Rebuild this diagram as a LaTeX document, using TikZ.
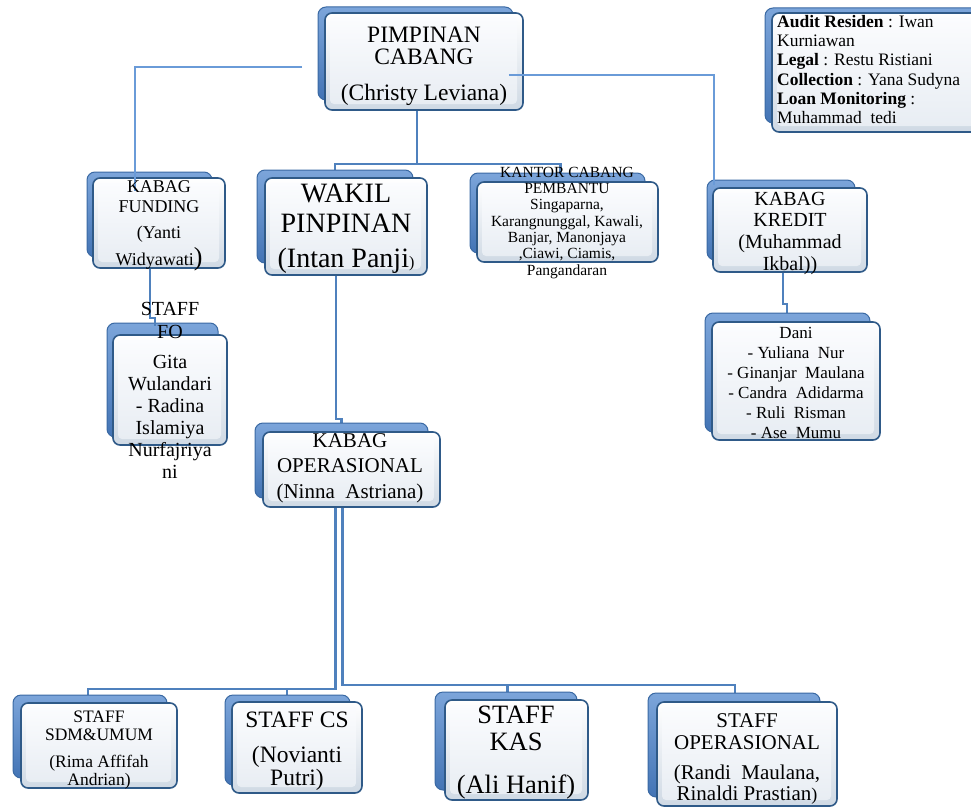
\documentclass[tikz,border=0pt]{standalone}
\usepackage{fontspec}
\setmainfont{Liberation Serif}
\usetikzlibrary{fit,calc,backgrounds}
\definecolor{lineblue}{HTML}{4F81BD}
\definecolor{thinblue}{HTML}{6A9BD8}
\definecolor{backtop}{HTML}{7CA5DA}
\definecolor{backbot}{HTML}{4374B5}
\definecolor{backedge}{HTML}{3A69A3}
\definecolor{frontedge}{HTML}{2F5A88}
\definecolor{frontbot}{HTML}{CFD9E4}
\definecolor{innertop}{HTML}{FBFCFE}
\definecolor{innerbot}{HTML}{E8EDF3}
\tikzset{
  backbox/.style={draw=backedge, line width=1pt, rounded corners=8pt, top color=backtop, bottom color=backbot, inner sep=0pt},
  frontbox/.style={draw=frontedge, line width=1.6pt, rounded corners=7pt, top color=white, bottom color=frontbot, inner sep=0pt},
  bevel/.style={rounded corners=4pt, top color=innertop, bottom color=innerbot, inner sep=0pt},
  conn/.style={draw=lineblue, line width=2.3pt},
  thinconn/.style={draw=thinblue, line width=1.3pt},
  txt/.style={inner sep=0pt, text=black},
}
\newcommand\orgbox[9]{%
  \node[backbox, fit={(#2,#3) (#4,#5)}] (#1b) {};
  \node[frontbox, fit={(#6,#7) (#8,#9)}] (#1) {};
  \node[bevel, fit={($(#6,#7)+(5,5)$) ($(#8,#9)+(-6,-6)$)}] (#1i) {};
}
\newcommand\tline[6][base]{\node[txt, anchor=#1, font=\fontsize{#5}{#5}\selectfont] (#2) at (#3,#4) {#6};}
\begin{document}
\begin{tikzpicture}[x=1pt,y=-1pt]
\useasboundingbox (0,0) rectangle (971,808);
\clip (0,0) rectangle (971,808);
% boxes
\orgbox{pc}{318}{7}{513}{100}{325}{13}{523}{110}
\orgbox{au}{765}{8}{990}{123}{772}{13}{1000}{132}
\orgbox{fd}{87}{172}{212}{257}{93}{178}{225}{268}
\orgbox{wk}{257}{170}{413}{263}{265}{178}{427}{275}
\orgbox{kc}{470}{173}{645}{253}{477}{182}{658}{262}
\orgbox{kr}{707}{180}{855}{260}{713}{188}{867}{272}
\orgbox{fo}{107}{323}{218}{437}{113}{335}{227}{445}
\orgbox{sk}{705}{313}{870}{432}{712}{322}{880}{440}
\orgbox{ops}{255}{423}{428}{498}{263}{432}{440}{507}
\orgbox{sdm}{13}{695}{167}{778}{21}{703}{177}{788}
\orgbox{cs}{225}{695}{350}{785}{232}{702}{362}{793}
\orgbox{kas}{435}{692}{577}{790}{445}{700}{588}{800}
\orgbox{sop}{648}{693}{820}{797}{657}{702}{837}{806}
% connectors under the boxes
\begin{pgfonlayer}{background}
\draw[conn] ([xshift=-7pt]pc.south) -- ++(0,53) coordinate (j1) -| ([xshift=-11pt]wk.north);
\draw[conn] (j1) -| ([xshift=-7pt]kc.north);
\draw[conn] ([xshift=-10pt]wk.south) -- ++(0,143) -| ([xshift=-10pt]ops.north);
\draw[conn] ([xshift=-16pt]ops.south) -- ++(0,181) coordinate (j2) -| ([xshift=-11pt]sdm.north);
\draw[conn] (j2) -| ([xshift=-10pt]cs.north);
\draw[conn] ([xshift=-9pt]ops.south) -- ++(0,177) coordinate (j3) -| ([xshift=-12pt]sop.north);
\draw[conn] (j3) -| ([xshift=-9pt]kas.north);
\draw[conn] ([xshift=-7pt]kr.south) -- ++(0,31) -| ([xshift=-9pt]sk.north);
\end{pgfonlayer}
% connectors over the boxes
\draw[thinconn] ([shift={(-22pt,-5.5pt)}]pc.west) -| ([shift={(-24pt,-14pt)}]fd.north);
\draw[thinconn] ([shift={(-15pt,-13.5pt)}]pc.east) -| ([shift={(-76pt,2pt)}]kr.north);
\draw[conn] ([xshift=-9pt]fd.south) -- ++(0,49) -- ++(5,0) -- ++(0,8);
% texts
\tline{pc1}{424}{42}{23.5}{PIMPINAN}
\tline{pc2}{424}{65}{23.5}{CABANG}
\tline{pc3}{424}{100}{23.5}{(Christy Leviana)}
\tline[base west]{au1}{777}{28}{17.5}{\textbf{Audit Residen} : Iwan}
\tline[base west]{au2}{777}{47}{17.5}{Kurniawan}
\tline[base west]{au3}{777}{66}{17.5}{\textbf{Legal} : Restu Ristiani}
\tline[base west]{au4}{777}{85}{17.5}{\textbf{Collection} : Yana Sudyna}
\tline[base west]{au5}{777}{104}{17.5}{\textbf{Loan Monitoring} :}
\tline[base west]{au6}{777}{123}{17.5}{Muhammad\ \ tedi}
\tline{fd1}{159}{192}{18}{KABAG}
\tline{fd2}{159}{212}{18}{FUNDING}
\tline{fd3}{159}{238}{18}{(Yanti}
\tline{fd4}{159}{265}{18}{Widyawati{\fontsize{26}{26}\selectfont)}}
\tline{wk1}{346}{202}{28}{WAKIL}
\tline{wk2}{346}{232}{28}{PINPINAN}
\tline{wk3}{346}{267}{28}{(Intan Panji{\fontsize{16}{16}\selectfont)}}
\tline{kc1}{567}{177}{15.5}{KANTOR CABANG}
\tline{kc2}{567}{193.3}{15.5}{PEMBANTU}
\tline{kc3}{567}{209.6}{15.5}{Singaparna,}
\tline{kc4}{567}{226}{15.5}{Karangnunggal, Kawali,}
\tline{kc5}{567}{242.3}{15.5}{Banjar, Manonjaya}
\tline{kc6}{567}{258.6}{15.5}{,Ciawi, Ciamis,}
\tline{kc7}{567}{275}{15.5}{Pangandaran}
\tline{kr1}{790}{205}{20}{KABAG}
\tline{kr2}{790}{226}{20}{KREDIT}
\tline{kr3}{790}{248}{20}{(Muhammad}
\tline{kr4}{790}{270}{20}{Ikbal))}
\tline{fo1}{170}{315}{20}{STAFF}
\tline{fo2}{170}{338}{20}{FO}
\tline{fo3}{170}{368}{20}{Gita}
\tline{fo4}{170}{390}{20}{Wulandari}
\tline{fo5}{170}{412}{20}{- Radina}
\tline{fo6}{170}{434}{20}{Islamiya}
\tline{fo7}{170}{456}{20}{Nurfajriya}
\tline{fo8}{170}{478}{20}{ni}
\tline{sk1}{796}{338}{17}{Dani}
\tline{sk2}{796}{358}{17}{- Yuliana\ \ Nur}
\tline{sk3}{796}{378}{17}{- Ginanjar\ \ Maulana}
\tline{sk4}{796}{398}{17}{- Candra\ \ Adidarma}
\tline{sk5}{796}{418}{17}{- Ruli\ \ Risman}
\tline{sk6}{796}{438}{17}{- Ase\ \ Mumu}
\tline{op1}{350}{447}{21}{KABAG}
\tline{op2}{350}{472}{21}{OPERASIONAL}
\tline{op3}{350}{498}{21}{(Ninna\ \ Astriana)}
\tline{sd1}{99}{722}{17.5}{STAFF}
\tline{sd2}{99}{740}{17.5}{SDM\&UMUM}
\tline{sd3}{99}{767}{17.5}{(Rima Affifah}
\tline{sd4}{99}{785}{17.5}{Andrian)}
\tline{cs1}{297}{727}{23.5}{STAFF CS}
\tline{cs2}{297}{762}{23.5}{(Novianti}
\tline{cs3}{297}{785}{23.5}{Putri)}
\tline{ka1}{516}{723}{26.5}{STAFF}
\tline{ka2}{516}{750}{26.5}{KAS}
\tline{ka3}{516}{793}{26.5}{(Ali Hanif)}
\tline{so1}{747}{727}{21}{STAFF}
\tline{so2}{747}{749}{21}{OPERASIONAL}
\tline{so3}{747}{779}{21}{(Randi\ \ Maulana,}
\tline{so4}{747}{800}{21}{Rinaldi Prastian{\fontsize{18}{18}\selectfont)}}
\end{tikzpicture}
\end{document}
